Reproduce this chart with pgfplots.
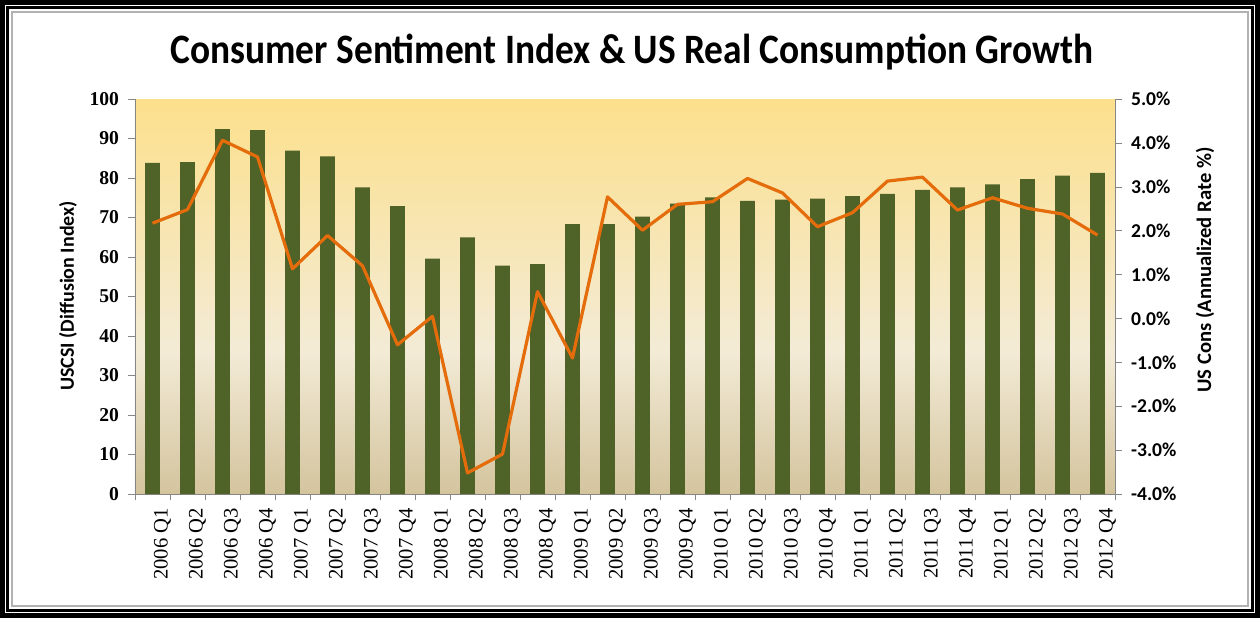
\documentclass[border=0pt]{standalone}
\usepackage{pgfplots}
\pgfplotsset{compat=1.18}
\usepackage{fontspec}
\setmainfont{Liberation Serif}
\newfontfamily\calibri{Carlito}
\definecolor{bgtop}{RGB}{252,224,140}
\definecolor{bgmid}{RGB}{243,235,214}
\definecolor{bgbot}{RGB}{212,196,158}
\definecolor{barcol}{HTML}{4F6228}
\definecolor{linecol}{HTML}{E46C0A}
\definecolor{axgray}{RGB}{134,134,134}
\pgfdeclareverticalshading{bgshade}{100bp}{color(0bp)=(bgbot); color(25bp)=(bgbot); color(43bp)=(bgmid); color(75bp)=(bgtop); color(100bp)=(bgtop)}
\begin{document}
\begin{tikzpicture}
% frame
\fill[black] (0,0) rectangle (630pt,309pt);
\fill[white] (2.6pt,2.6pt) rectangle (627.4pt,306.4pt);
\draw[black, line width=1.4pt] (3.8pt,3.8pt) rectangle (626.2pt,305.2pt);
\draw[gray!60, line width=1pt] (6pt,6pt) rectangle (624pt,303pt);
% title and axis labels
\node[font=\calibri\bfseries\fontsize{18.7}{20}\selectfont, yscale=1.12, transform shape] at (316pt,283pt) {Consumer Sentiment Index \& US Real Consumption Growth};
\node[rotate=90, font=\calibri\bfseries\fontsize{10}{12}\selectfont] at (34pt,161pt) {USCSI (Diffusion Index)};
\node[rotate=90, font=\calibri\bfseries\fontsize{10.3}{12}\selectfont] at (602.5pt,174pt) {US Cons (Annualized Rate \%)};
\begin{axis}[
  at={(67.5pt,62pt)}, anchor=south west,
  scale only axis, width=490pt, height=197.5pt,
  xmin=-0.5, xmax=27.5, ymin=0, ymax=100,
  axis y line*=left, axis x line*=bottom,
  axis line style={draw=axgray},
  axis background/.style={shade, shading=bgshade},
  tick align=outside,
  ytick={0,10,...,100},
  major tick length=3.5pt, minor tick length=3pt,
  tick style={draw=axgray},
  /pgf/number format/assume math mode=true,
  yticklabel style={font=\bfseries\fontsize{9.8}{10}\selectfont, xshift=-1pt},
  xtick={0,...,27},
  major x tick style={draw=none},
  minor xtick={-0.5,0.5,...,27.5},
  xticklabels={2006 Q1,2006 Q2,2006 Q3,2006 Q4,2007 Q1,2007 Q2,2007 Q3,2007 Q4,2008 Q1,2008 Q2,2008 Q3,2008 Q4,2009 Q1,2009 Q2,2009 Q3,2009 Q4,2010 Q1,2010 Q2,2010 Q3,2010 Q4,2011 Q1,2011 Q2,2011 Q3,2011 Q4,2012 Q1,2012 Q2,2012 Q3,2012 Q4},
  xticklabel style={rotate=90, anchor=east, font=\fontsize{10.3}{12}\selectfont, yshift=-5pt},
]
\addplot[ybar, bar width=7.35pt, fill=barcol, draw=none] coordinates {
(0,83.8) (1,84.0) (2,92.4) (3,92.1) (4,86.9) (5,85.5) (6,77.6) (7,72.9)
(8,59.6) (9,65.0) (10,57.8) (11,58.2) (12,68.3) (13,68.3) (14,70.2) (15,73.5)
(16,75.1) (17,74.2) (18,74.5) (19,74.8) (20,75.4) (21,76.0) (22,77.0) (23,77.6)
(24,78.4) (25,79.7) (26,80.6) (27,81.3)};
\end{axis}
\begin{axis}[
  at={(67.5pt,62pt)}, anchor=south west,
  scale only axis, width=490pt, height=197.5pt,
  xmin=-0.5, xmax=27.5, ymin=-4, ymax=5,
  axis y line*=right, axis x line=none,
  axis line style={draw=axgray},
  tick align=outside,
  major tick length=3.5pt,
  tick style={draw=axgray},
  ytick={-4,-3,...,5},
  /pgf/number format/assume math mode=true,
  yticklabel={\pgfmathprintnumber[fixed,fixed zerofill,precision=1]{\tick}\%},
  yticklabel style={font=\calibri\bfseries\fontsize{9.8}{10}\selectfont, xshift=1pt},
]
\addplot[linecol, line width=1.6pt, mark=none, line join=round] coordinates {
(0,2.17) (1,2.48) (2,4.06) (3,3.68) (4,1.13) (5,1.89) (6,1.20) (7,-0.60)
(8,0.05) (9,-3.52) (10,-3.09) (11,0.61) (12,-0.90) (13,2.77) (14,2.01) (15,2.60)
(16,2.66) (17,3.19) (18,2.86) (19,2.09) (20,2.41) (21,3.13) (22,3.22) (23,2.47)
(24,2.75) (25,2.51) (26,2.38) (27,1.90)};
\end{axis}
\end{tikzpicture}
\end{document}
